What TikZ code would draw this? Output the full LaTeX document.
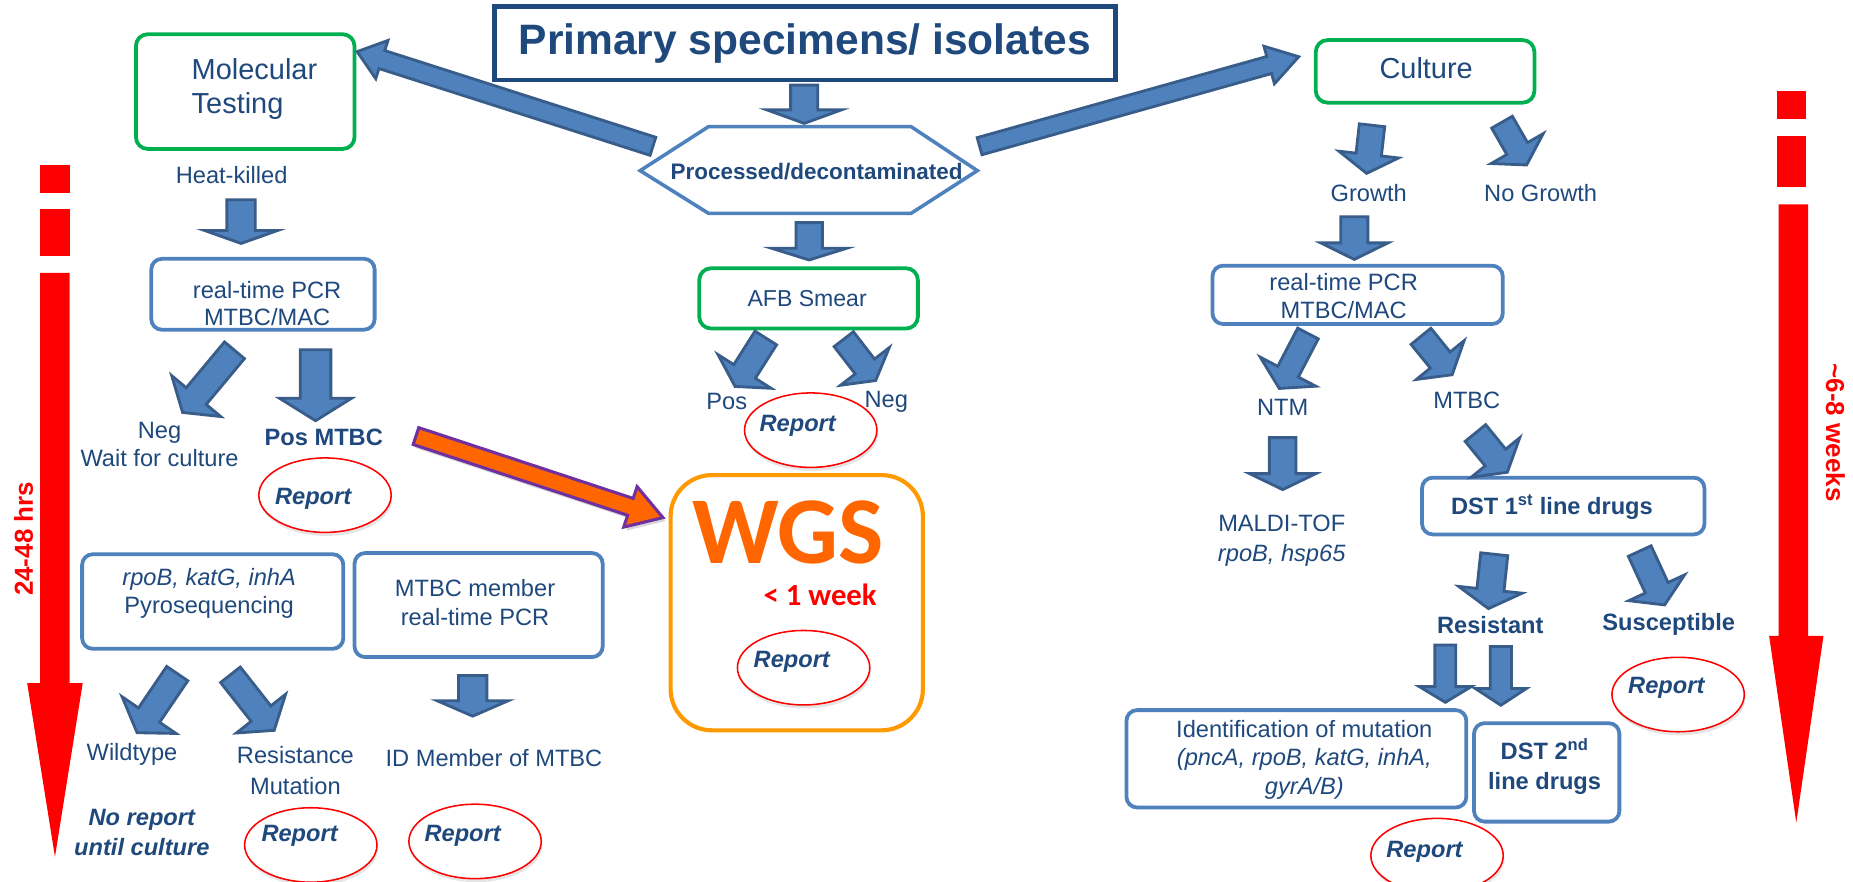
\documentclass[tikz,border=0pt]{standalone}
\usepackage{fontspec}
\setmainfont{Liberation Sans}
\newfontfamily\calfont{Carlito}
\usetikzlibrary{calc,shapes.geometric,shadows}
\definecolor{tb}{HTML}{1F497D}
\definecolor{afill}{HTML}{4F81BD}
\definecolor{adraw}{HTML}{385D8A}
\definecolor{bblue}{HTML}{4F81BD}
\definecolor{grn}{HTML}{00B050}
\definecolor{orngb}{HTML}{FF9900}
\definecolor{orng}{HTML}{FF6600}
\definecolor{redz}{HTML}{FF0000}
\definecolor{purp}{HTML}{7030A0}
\newcommand{\barrow}[6][barr]{%
  \coordinate (bh) at ($(#3)!#6!(#2)$);
  \draw[#1] ($(#2)!#4!90:(#3)$) -- ($(bh)!#4!90:(#3)$) -- ($(bh)!#5!90:(#3)$) -- (#3)
    -- ($(bh)!#5!-90:(#3)$) -- ($(bh)!#4!-90:(#3)$) -- ($(#2)!#4!-90:(#3)$) -- cycle;}
\begin{document}
\begin{tikzpicture}[x=1pt,y=-1pt,
  barr/.style={fill=afill, draw=adraw, line width=2.4pt, line join=miter},
  oarr/.style={fill=orng, draw=purp, line width=2.6pt, line join=miter,
     drop shadow={shadow xshift=2pt, shadow yshift=-3pt, opacity=0.3}},
  gbox/.style={draw=grn, line width=3.2pt, rounded corners=10pt, inner sep=0pt},
  bbox/.style={draw=bblue, line width=3.2pt, rounded corners=9pt, inner sep=0pt},
  txt/.style={text=tb, inner sep=0pt, align=center, font=\fontsize{20}{24}\selectfont},
  btxt/.style={txt, font=\fontsize{20}{24}\selectfont\bfseries},
  rep/.style={ellipse, draw=redz, line width=1.3pt, fill=white, minimum width=112pt,
     minimum height=63pt, inner sep=0pt,
     drop shadow={shadow xshift=1pt, shadow yshift=-3pt, opacity=0.2}},
  reptxt/.style={txt, font=\fontsize{20}{24}\selectfont\bfseries\itshape},
  redtxt/.style={text=redz, inner sep=0pt, font=\fontsize{22}{26}\selectfont\bfseries}]
\useasboundingbox (0,0) rectangle (1568,746);
\fill[white] (0,0) rectangle (1568,746);

% ---- red time arrows ----
\fill[redz] (34,140) rectangle (59,163);
\fill[redz] (34,177) rectangle (59,217);
\fill[redz] (34,231) -- (59,231) -- (59,578) -- (70,578) -- (46.5,725) -- (23,578) -- (34,578) -- cycle;
\node[redtxt, rotate=90] (t2448) at (20,456) {24-48 hrs};
\fill[redz] (1504,77) rectangle (1528,101);
\fill[redz] (1504,115) rectangle (1528,158);
\fill[redz] (1505,173) -- (1530,173) -- (1530,538) -- (1543,538) -- (1520,696) -- (1497,538) -- (1505,538) -- cycle;
\node[redtxt, rotate=-90] (t68) at (1553,366) {\textasciitilde6-8 weeks};

% ---- boxes ----
\node[draw=tb, line width=4pt, inner sep=0pt, minimum width=525pt, minimum height=62pt] (prim) at (681.2,36.6) {};
\node[txt, font=\fontsize{36}{40}\selectfont\bfseries] (primt) at (681,37) {Primary specimens/ isolates};
\node[gbox, minimum width=185pt, minimum height=97pt] (mol) at (207.5,77.5) {};
\node[txt, font=\fontsize{24.5}{29}\selectfont, align=left, anchor=west] (molt) at (162,75.5) {Molecular\\Testing};
\node[gbox, minimum width=185pt, minimum height=53pt] (cult) at (1205.9,60.4) {};
\node[txt, font=\fontsize{24.5}{29}\selectfont] (cultt) at (1206.8,58) {Culture};
\draw[draw=bblue, line width=3pt, fill=white] (541.7,144.4) -- (599.5,107.2) -- (771,107.2) -- (827,144.4) -- (771,180.5) -- (599.5,180.5) -- cycle;
\node[txt, font=\fontsize{19}{23}\selectfont\bfseries] (hex) at (691,145.3) {Processed/decontaminated};
\node[gbox, minimum width=185pt, minimum height=51pt] (afb) at (684.2,252.5) {};
\node[txt, font=\fontsize{19.5}{23}\selectfont] (afbt) at (683,253) {AFB Smear};
\node[bbox, minimum width=189pt, minimum height=60pt] (pcrL) at (222.5,249) {};
\node[txt, font=\fontsize{20}{23}\selectfont] (pcrLt) at (226,257) {real-time PCR\\MTBC/MAC};
\node[bbox, minimum width=245.6pt, minimum height=49.4pt] (pcrR) at (1148.8,249.5) {};
\node[txt] (pcrRt) at (1137,250.3) {real-time PCR\\MTBC/MAC};
\node[bbox, minimum width=221pt, minimum height=80pt] (pyro) at (180,509) {};
\node[txt] (pyrot) at (177,502) {\textit{rpoB, katG, inhA}\\Pyrosequencing};
\node[bbox, minimum width=210pt, minimum height=88pt] (memb) at (405,512) {};
\node[txt] (membt) at (402,510) {MTBC member\\real-time PCR};
\node[bbox, minimum width=239pt, minimum height=48pt] (dst1) at (1322.8,428.2) {};
\node[btxt] (dst1t) at (1313.2,429.1) {DST 1\textsuperscript{st} line drugs};
\node[bbox, minimum width=287.6pt, minimum height=82.4pt] (idm) at (1097,642.1) {};
\node[txt] (idmt) at (1103.7,643) {Identification of mutation\\\textit{(pncA, rpoB, katG, inhA,}\\\textit{gyrA/B)}};
\node[bbox, minimum width=123pt, minimum height=83.3pt] (dst2) at (1308.8,653.6) {};
\node[btxt, font=\fontsize{20}{25}\selectfont\bfseries] (dst2t) at (1307,648.7) {DST 2\textsuperscript{nd}\\line drugs};
\node[draw=orngb, line width=3.5pt, rounded corners=35pt, minimum width=213.5pt, minimum height=216pt, inner sep=0pt] (wgs) at (674.2,510) {};
\node[text=orng, inner sep=0pt, text height=52pt, text depth=0pt, font=\calfont\fontsize{81}{90}\selectfont\bfseries] (wgst) at (667,451) {WGS};
\node[text=redz, inner sep=0pt, text height=17pt, text depth=0pt, font=\calfont\fontsize{26}{30}\selectfont\bfseries] (week) at (694,503.5) {< 1 week};

% ---- plain labels ----
\node[txt] (heat) at (196,148) {Heat-killed};
\node[txt] (negL) at (135,376) {Neg\\Wait for culture};
\node[btxt] (posm) at (274,370) {Pos MTBC};
\node[txt] (pos) at (615,340) {Pos};
\node[txt] (neg) at (750,340) {Neg};
\node[txt] (wild) at (111.7,638) {Wildtype};
\node[txt, font=\fontsize{20}{25.5}\selectfont] (resm) at (250,652) {Resistance\\Mutation};
\node[txt] (idmem) at (418,641.5) {ID Member of MTBC};
\node[reptxt, font=\fontsize{20}{25}\selectfont\bfseries\itshape] (norep) at (120,704.5) {No report\\until culture};
\node[txt] (grow) at (1158.2,163.6) {Growth};
\node[txt] (nogrow) at (1303.7,163.6) {No Growth};
\node[txt] (ntm) at (1085.4,344.5) {NTM};
\node[txt] (mtbc) at (1241.2,338.8) {MTBC};
\node[txt, font=\fontsize{20}{25}\selectfont] (maldi) at (1084.6,457.7) {MALDI-TOF\\\textit{rpoB, hsp65}};
\node[btxt] (resi) at (1261.1,529.1) {Resistant};
\node[btxt] (susc) at (1412.1,528.2) {Susceptible};

% ---- report ellipses ----
\node[rep] (r1) at (275,419) {};
\node[reptxt] at ($(r1)+(-10,3)$) {Report};
\node[rep] (r2) at (686,364) {};
\node[reptxt] at ($(r2)+(-11,-4)$) {Report};
\node[rep] (r3) at (680,565) {};
\node[reptxt] at ($(r3)+(-10,-5)$) {Report};
\node[rep] (r4) at (263,715) {};
\node[reptxt] at ($(r4)+(-9.5,-7.5)$) {Report};
\node[rep] (r5) at (402,712) {};
\node[reptxt] at ($(r5)+(-10.5,-4.5)$) {Report};
\node[rep] (r6) at (1420,587.7) {};
\node[reptxt] at ($(r6)+(-10,-5.7)$) {Report};
\node[rep] (r7) at (1216,724) {};
\node[reptxt] at ($(r7)+(-10.6,-3)$) {Report};

% ---- block arrows ----
\coordinate (v1a) at (204,169); \coordinate (v1b) at (204,206);
\barrow{v1a}{v1b}{12pt}{31pt}{11pt}
\coordinate (v2a) at (680.5,72); \coordinate (v2b) at (680.5,104.4);
\barrow{v2a}{v2b}{11.5pt}{31.5pt}{11.4pt}
\coordinate (v3a) at (684.7,188.4); \coordinate (v3b) at (684.7,220);
\barrow{v3a}{v3b}{11.2pt}{32pt}{10pt}
\coordinate (v4a) at (267,296); \coordinate (v4b) at (267,356);
\barrow{v4a}{v4b}{13pt}{30.5pt}{19pt}
\coordinate (v5a) at (400,571.6); \coordinate (v5b) at (400,606);
\barrow{v5a}{v5b}{12pt}{30pt}{13pt}
\coordinate (v6a) at (1146,183.4); \coordinate (v6b) at (1146,219.5);
\barrow{v6a}{v6b}{11.5pt}{28.5pt}{14pt}
\coordinate (v7a) at (1085.4,370.3); \coordinate (v7b) at (1085.4,414.3);
\barrow{v7a}{v7b}{11.3pt}{28pt}{13.5pt}
\coordinate (v8a) at (1223,545.8); \coordinate (v8b) at (1223,594.3);
\barrow{v8a}{v8b}{8.8pt}{22pt}{13.3pt}
\coordinate (v9a) at (1270,547.1); \coordinate (v9b) at (1270,596.8);
\barrow{v9a}{v9b}{9pt}{21.6pt}{14.2pt}

\coordinate (d1a) at (198.4,296.4); \coordinate (d1b) at (154.5,349);
\barrow{d1a}{d1b}{11pt}{27pt}{18pt}
\coordinate (d2a) at (648,286); \coordinate (d2b) at (622,327);
\barrow{d2a}{d2b}{10.8pt}{26.6pt}{15pt}
\coordinate (d3a) at (714,287); \coordinate (d3b) at (741,322);
\barrow{d3a}{d3b}{10.3pt}{26pt}{15pt}
\coordinate (d4a) at (150,570); \coordinate (d4b) at (116,620);
\barrow{d4a}{d4b}{10.8pt}{27.6pt}{18pt}
\coordinate (d5a) at (195,571); \coordinate (d5b) at (232,618);
\barrow{d5a}{d5b}{10.6pt}{26.5pt}{18pt}
\coordinate (d6a) at (1161,106); \coordinate (d6b) at (1156.4,146.7);
\barrow{d6a}{d6b}{10.8pt}{25.4pt}{16pt}
\coordinate (d7a) at (1271,103.4); \coordinate (d7b) at (1291.8,139.6);
\barrow{d7a}{d7b}{10.1pt}{25.4pt}{16pt}
\coordinate (d8a) at (1106.8,282.2); \coordinate (d8b) at (1082.5,328.7);
\barrow{d8a}{d8b}{9.8pt}{26.5pt}{16pt}
\coordinate (d9a) at (1202.4,284.6); \coordinate (d9b) at (1228.8,317.1);
\barrow{d9a}{d9b}{10.8pt}{26pt}{16pt}
\coordinate (d10a) at (1248.5,366.4); \coordinate (d10b) at (1275.5,399.6);
\barrow{d10a}{d10b}{11.2pt}{26.5pt}{16pt}
\coordinate (d11a) at (1264.4,469); \coordinate (d11b) at (1259.5,515);
\barrow{d11a}{d11b}{11.5pt}{27pt}{16pt}
\coordinate (d12a) at (1387.5,466.3); \coordinate (d12b) at (1408.6,511.9);
\barrow{d12a}{d12b}{10.6pt}{26pt}{16pt}

\coordinate (b1a) at (552.5,123.8); \coordinate (b1b) at (302.2,43.7);
\barrow{b1a}{b1b}{8pt}{17pt}{22pt}
\coordinate (b2a) at (828.9,123.7); \coordinate (b2b) at (1099,48);
\barrow{b2a}{b2b}{7.5pt}{16.5pt}{26pt}
\coordinate (oa) at (352,369); \coordinate (ob) at (561,438);
\barrow[oarr]{oa}{ob}{7.5pt}{18pt}{29pt}
\end{tikzpicture}
\end{document}
